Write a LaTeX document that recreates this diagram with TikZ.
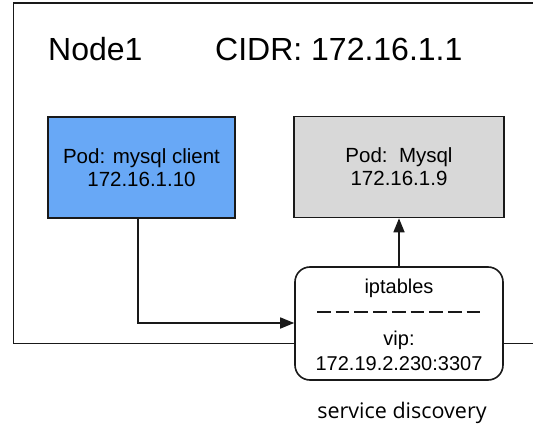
\documentclass[tikz,border=0pt]{standalone}
\usepackage{fontspec}
\setmainfont{Liberation Sans}
\newfontfamily\osans{Open Sans}
\usetikzlibrary{arrows.meta}
\definecolor{podblue}{RGB}{104,168,246}
\definecolor{podgrey}{RGB}{216,216,216}
\definecolor{lineblk}{RGB}{25,25,25}
\tikzset{
  podbox/.style={draw=lineblk, line width=1.6pt, minimum width=187pt, minimum height=101pt, align=center, inner sep=0pt,
    font=\fontsize{20.5}{23}\selectfont},
  svcbox/.style={draw=lineblk, line width=1.6pt, fill=white, rounded corners=15pt, minimum width=208pt, minimum height=113pt, inner sep=0pt},
  svctext/.style={anchor=base, inner sep=0pt, font=\fontsize{20}{24}\selectfont},
  bigtext/.style={anchor=base west, inner sep=0pt, font=\fontsize{32}{38}\selectfont},
  conn/.style={draw=lineblk, line width=1.6pt, -{Triangle[length=14pt,width=11pt]}},
}
\begin{document}
\begin{tikzpicture}[x=1pt,y=-1pt]
\useasboundingbox (0,0) rectangle (533,425);
\fill[white] (0,0) rectangle (533,425);
% outer node frame
\draw[lineblk, line width=1.6pt] (533,3) -- (13.5,3) -- (13.5,343.5) -- (533,343.5);
\node[bigtext] (n1) at (48,61) {Node1};
\node[bigtext] (cidr) at (215,61) {CIDR: 172.16.1.1};
\node[podbox, fill=podblue] (client) at (141.5,167.5) {Pod: mysql client\\172.16.1.10};
\node[podbox, fill=podgrey, minimum width=210pt] (mysql) at (399,167) {Pod:\ \ Mysql\\172.16.1.9};
\node[svcbox] (svc) at (399,323.5) {};
\node[svctext] (ipt) at (399,293) {iptables};
\coordinate (dl) at (317,312);
\coordinate (dr) at (480.3,312);
\draw[lineblk, line width=1.5pt, dash pattern=on 13.7pt off 5pt] (dl) -- (dr);
\node[svctext] (vip) at (399,345) {vip:};
\node[svctext] (addr) at (399,370) {172.19.2.230:3307};
\node[anchor=base, inner sep=0pt, font=\osans\fontsize{21.5}{26}\selectfont] (sd) at (402,418) {service discovery};
\coordinate (bend) at (138,323);
\draw[conn] (client.south -| bend) -- (bend) -- (svc.west |- bend);
\draw[conn] (svc.north) -- (mysql.south);
\end{tikzpicture}
\end{document}
